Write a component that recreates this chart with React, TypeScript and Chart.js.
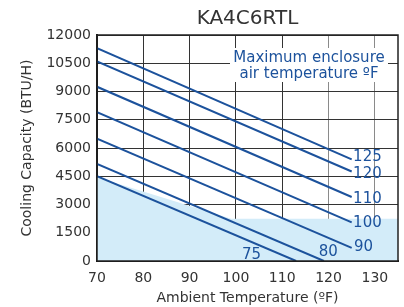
import React, { useEffect, useRef } from "react";
import { Chart, registerables } from "chart.js";

Chart.register(...registerables);

const chartTitle = "KA4C6RTL";
const enclosureTemps = ["125", "120", "110", "100", "90", "80", "75"];
const startAmbient = [70, 70, 70, 70, 70, 70, 70];
const startCapacity = [11300, 10600, 9250, 7900, 6500, 5150, 4500];
const endAmbient = [125, 125, 125, 125, 125, 119, 113];
const endCapacity = [5400, 4750, 3400, 2050, 700, 0, 0];

const labelAmbient = [125.3, 125.3, 125.3, 125.3, 125.5, 117.9, 101.3];
const labelCapacity = [5500, 4600, 3300, 2020, 730, 450, 320];

const shadeAmbient = [70, 99, 135];
const shadeCapacity = [4450, 2250, 2250];

const xTicks = [70, 80, 90, 100, 110, 120, 130];
const yTicks = [0, 1500, 3000, 4500, 6000, 7500, 9000, 10500, 12000];

const legendLines = ["Maximum enclosure", "air temperature ºF"];

const BLUE = "#1c529c";
const FONT = "'DejaVu Sans', sans-serif";

export default function App() {
  const ref = useRef<HTMLCanvasElement | null>(null);
  useEffect(() => {
    if (!ref.current) return;
    const lineSets = enclosureTemps.map((t, i) => ({
      type: "line" as const,
      label: t,
      data: [
        { x: startAmbient[i], y: startCapacity[i] },
        { x: endAmbient[i], y: endCapacity[i] },
      ],
      borderColor: BLUE,
      borderWidth: 2,
      pointRadius: 0,
      fill: false,
      order: 1,
    }));
    const shade = {
      type: "line" as const,
      label: "shade",
      data: shadeAmbient.map((x, i) => ({ x, y: shadeCapacity[i] })),
      borderWidth: 0,
      borderColor: "rgba(0,0,0,0)",
      backgroundColor: "#d3ecf9",
      pointRadius: 0,
      fill: "origin",
      order: 2,
    };
    const labelsPlugin = {
      id: "labels",
      afterDraw(chart: any) {
        const { ctx, scales, chartArea } = chart;
        const xs = scales.x;
        const ys = scales.y;
        ctx.save();
        ctx.strokeStyle = "#222222";
        ctx.lineWidth = 1.5;
        ctx.strokeRect(chartArea.left, chartArea.top, chartArea.right - chartArea.left, chartArea.bottom - chartArea.top);

        ctx.fillStyle = "#333333";
        ctx.font = `20px ${FONT}`;
        ctx.textAlign = "center";
        ctx.textBaseline = "middle";
        ctx.fillText(chartTitle, (chartArea.left + chartArea.right) / 2, 19);

        ctx.fillStyle = BLUE;
        ctx.font = `15px ${FONT}`;
        ctx.textAlign = "left";
        ctx.textBaseline = "middle";
        enclosureTemps.forEach((t, i) => {
          ctx.fillText(t, xs.getPixelForValue(labelAmbient[i]), ys.getPixelForValue(labelCapacity[i]));
        });
        // legend box
        ctx.fillStyle = "#ffffff";
        ctx.fillRect(230, 48, 158, 34);
        ctx.fillStyle = BLUE;
        ctx.font = `15px ${FONT}`;
        ctx.textAlign = "center";
        ctx.fillText(legendLines[0], 309, 58);
        ctx.fillText(legendLines[1], 309, 74);
        ctx.restore();
      },
    };
    const chart = new Chart(ref.current, {
      type: "line",
      data: { datasets: [shade, ...lineSets] as any },
      options: {
        animation: false,
        responsive: false,
        maintainAspectRatio: false,
        layout: { padding: { left: 0, right: 6, top: 35, bottom: 0 } },
        plugins: {
          legend: { display: false },
          tooltip: { enabled: false },
          title: { display: false },
        },
        scales: {
          x: {
            type: "linear",
            min: 70,
            max: 135,
            z: 1,
            afterBuildTicks(scale: any) {
              scale.ticks = xTicks.map((v) => ({ value: v }));
            },
            afterFit(scale: any) {
              scale.height = 46;
            },
            ticks: {
              color: "#333333",
              font: { family: FONT, size: 14 },
              padding: 9,
              maxRotation: 0,
              callback: (v: any) => String(v),
            },
            grid: {
              drawTicks: false,
              color: (c: any) => (c.tick && c.tick.value >= 120 ? "#8a8a8a" : "#333333"),
              lineWidth: 1,
            },
            border: { color: "#111111", width: 2 },
            title: {
              display: true,
              text: "Ambient Temperature (ºF)",
              color: "#333333",
              font: { family: FONT, size: 14 },
              padding: { top: 2, bottom: 0 },
            },
          },
          y: {
            type: "linear",
            min: 0,
            max: 12000,
            z: 1,
            afterBuildTicks(scale: any) {
              scale.ticks = yTicks.map((v) => ({ value: v }));
            },
            afterFit(scale: any) {
              scale.width = 97;
            },
            ticks: {
              color: "#333333",
              font: { family: FONT, size: 14 },
              padding: 6,
              callback: (v: any) => String(v),
            },
            grid: {
              drawTicks: false,
              color: "#333333",
              lineWidth: 1,
            },
            border: { color: "#111111", width: 2 },
            title: {
              display: true,
              text: "Cooling Capacity (BTU/H)",
              color: "#333333",
              font: { family: FONT, size: 14 },
              padding: { top: 19, bottom: 0 },
            },
          },
        },
      },
      plugins: [labelsPlugin],
    });
    return () => chart.destroy();
  }, []);
  return (
    <div style={{ position: "absolute", left: 0, top: 0, width: 404, height: 307, background: "#fff" }}>
      <canvas ref={ref} width={404} height={307} style={{ width: 404, height: 307 }} />
    </div>
  );
}
